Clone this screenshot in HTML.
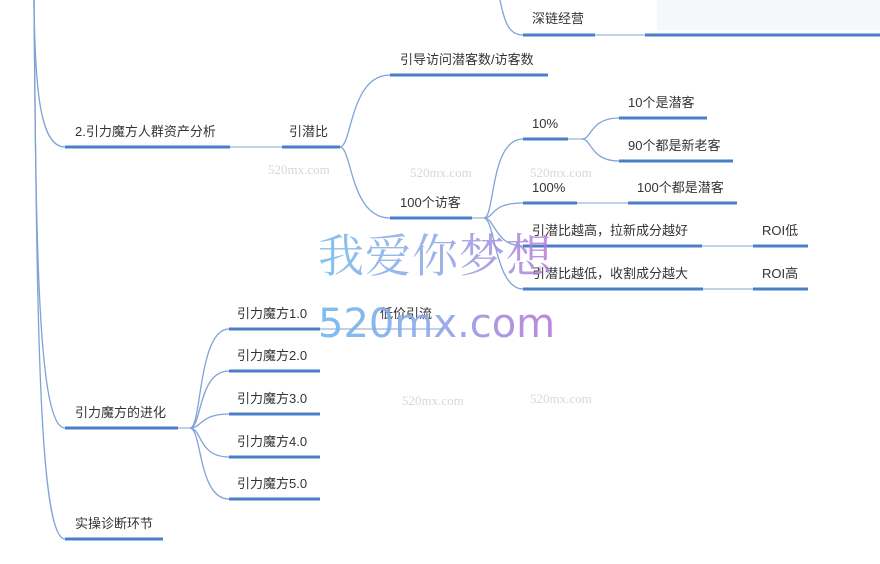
<!DOCTYPE html>
<html><head><meta charset="utf-8"><style>
html,body{margin:0;padding:0;background:#fff;}
svg{display:block;}
text{font-family:"Liberation Sans","Noto Sans CJK SC",sans-serif;font-size:13px;fill:#333;}
.t{stroke:#4a7fc8;stroke-width:3;fill:none;}
.n{stroke:#9bb8de;stroke-width:1.3;fill:none;}
.c{stroke:#7fa3d6;stroke-width:1.3;fill:none;}
.w{fill:#d8d8d8;font-family:"Liberation Serif",serif;font-size:13px;}
</style></head><body>
<svg width="880" height="564" viewBox="0 0 880 564">
<defs>
<linearGradient id="g" x1="0" x2="1" y1="0" y2="0">
<stop offset="0" stop-color="#6fb8ec"/><stop offset="0.5" stop-color="#8fa6e8"/><stop offset="1" stop-color="#b57ad8"/>
</linearGradient>
</defs>
<rect x="657" y="0" width="223" height="30" fill="#f5f8fb"/>
<path class="c" d="M34,0 C35,90 40,147 65,147"/>
<path class="c" d="M34,0 C36,250 38,428 65,428"/>
<path class="c" d="M34,0 C37,300 38,539 65,539"/>
<path class="c" d="M500,0 C505,25 510,35 523,35"/>
<line class="t" x1="523" y1="35" x2="595" y2="35"/><line class="n" x1="595" y1="35" x2="645" y2="35"/><line class="t" x1="645" y1="35" x2="880" y2="35"/>
<text x="532" y="23">深链经营</text>
<line class="t" x1="65" y1="147" x2="230" y2="147"/><line class="n" x1="230" y1="147" x2="282" y2="147"/><line class="t" x1="282" y1="147" x2="340" y2="147"/>
<text x="75" y="136">2.引力魔方人群资产分析</text>
<text x="289" y="136">引潜比</text>
<path class="c" d="M340,147 C352,147 350,75 390,75"/>
<path class="c" d="M340,147 C352,147 350,218 390,218"/>
<line class="t" x1="390" y1="75" x2="548" y2="75"/>
<text x="400" y="64">引导访问潜客数/访客数</text>
<line class="t" x1="390" y1="218" x2="472" y2="218"/>
<text x="400" y="207">100个访客</text>
<line class="n" x1="472" y1="218" x2="484" y2="218"/>
<path class="c" d="M484,218 C495,218 490,139 523,139"/>
<path class="c" d="M484,218 C495,218 490,203 523,203"/>
<path class="c" d="M484,218 C495,218 495,246 523,246"/>
<path class="c" d="M484,218 C495,218 495,289 523,289"/>
<line class="t" x1="523" y1="139" x2="568" y2="139"/><text x="532" y="128">10%</text>
<line class="n" x1="568" y1="139" x2="582" y2="139"/>
<path class="c" d="M582,139 C592,139 590,118 619,118"/>
<path class="c" d="M582,139 C592,139 590,161 619,161"/>
<line class="t" x1="619" y1="118" x2="707" y2="118"/><text x="628" y="107">10个是潜客</text>
<line class="t" x1="619" y1="161" x2="733" y2="161"/><text x="628" y="150">90个都是新老客</text>
<line class="t" x1="523" y1="203" x2="577" y2="203"/><line class="n" x1="577" y1="203" x2="628" y2="203"/><line class="t" x1="628" y1="203" x2="737" y2="203"/>
<text x="532" y="192">100%</text><text x="637" y="192">100个都是潜客</text>
<line class="t" x1="523" y1="246" x2="702" y2="246"/><line class="n" x1="702" y1="246" x2="753" y2="246"/><line class="t" x1="753" y1="246" x2="808" y2="246"/>
<text x="532" y="235">引潜比越高，拉新成分越好</text><text x="762" y="235">ROI低</text>
<line class="t" x1="523" y1="289" x2="703" y2="289"/><line class="n" x1="703" y1="289" x2="753" y2="289"/><line class="t" x1="753" y1="289" x2="808" y2="289"/>
<text x="532" y="278">引潜比越低，收割成分越大</text><text x="762" y="278">ROI高</text>
<line class="t" x1="65" y1="428" x2="178" y2="428"/><text x="75" y="417">引力魔方的进化</text>
<line class="n" x1="178" y1="428" x2="190" y2="428"/>
<path class="c" d="M190,428 C202,428 198,329 229,329"/>
<path class="c" d="M190,428 C202,428 198,371 229,371"/>
<path class="c" d="M190,428 C202,428 200,414 229,414"/>
<path class="c" d="M190,428 C202,428 198,457 229,457"/>
<path class="c" d="M190,428 C202,428 198,499 229,499"/>
<line class="t" x1="229" y1="329" x2="320" y2="329"/><text x="237" y="318">引力魔方1.0</text>
<line class="n" x1="320" y1="329" x2="443" y2="329"/><text x="380" y="318">低价引流</text>
<line class="t" x1="229" y1="371" x2="320" y2="371"/><text x="237" y="360">引力魔方2.0</text>
<line class="t" x1="229" y1="414" x2="320" y2="414"/><text x="237" y="403">引力魔方3.0</text>
<line class="t" x1="229" y1="457" x2="320" y2="457"/><text x="237" y="446">引力魔方4.0</text>
<line class="t" x1="229" y1="499" x2="320" y2="499"/><text x="237" y="488">引力魔方5.0</text>
<line class="t" x1="65" y1="539" x2="163" y2="539"/><text x="75" y="528">实操诊断环节</text>
<text class="w" x="268" y="174">520mx.com</text>
<text class="w" x="410" y="177">520mx.com</text>
<text class="w" x="530" y="177">520mx.com</text>
<text class="w" x="402" y="405">520mx.com</text>
<text class="w" x="530" y="403">520mx.com</text>
<text x="318" y="272" style="font-family:'Noto Serif CJK SC',serif;font-size:46px;letter-spacing:1px;fill:url(#g);opacity:.85">我爱你梦想</text>
<text x="318" y="337" style="font-family:'DejaVu Sans',sans-serif;font-size:40px;fill:url(#g);opacity:.9">520mx.com</text>
</svg>
</body></html>
